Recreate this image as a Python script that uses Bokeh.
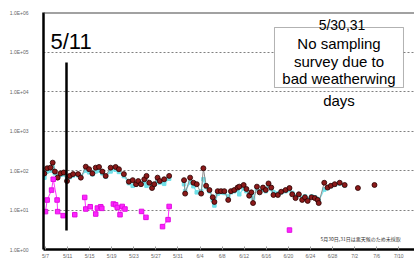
import math
from bokeh.plotting import figure
from bokeh.models import (ColumnDataSource, Label, BoxAnnotation, Span, FixedTicker,
                          CustomJSTickFormatter)
from bokeh.embed import file_html
from bokeh.resources import INLINE

# ---- data (day offset from 5/7, concentration) ----
red_day = [-0.2, 0.3, 0.9, 1.3, 1.7, 2.2, 2.7, 3.3, 3.9, 4.4, 5.0, 5.9, 6.4, 7.3, 7.9, 8.5, 9.1, 9.7,
           10.3, 10.9, 11.8, 12.7, 13.3, 14.2, 15.1, 15.8, 16.4, 16.8, 17.3, 17.9, 18.3, 18.8, 19.3,
           19.7, 20.3, 20.7, 21.5, 22.4,
           25.1, 25.3, 26.2, 26.8, 27.4, 28.2, 28.6, 29.1, 29.7, 30.3, 30.6, 31.2, 31.8, 32.4, 33.1,
           33.6, 34.2, 34.8, 35.1, 35.9, 36.4, 36.9, 37.3, 37.6, 38.3, 38.8, 39.4, 39.9, 40.4, 40.9,
           41.3, 42.1, 42.7, 43.5, 44.2, 44.7, 45.3, 45.9, 46.5, 47.0, 47.5, 48.2, 48.8, 49.3, 49.5,
           50.5, 51.1, 51.7, 52.4, 53.3, 54.2, 56.6, 59.6]
red_val = [84, 114, 118, 158, 94, 66, 84, 89, 54, 73, 81, 81, 66, 125, 108, 84, 118, 123,
           94, 73, 118, 123, 108, 81, 52, 57, 45, 54, 45, 60, 73, 49, 36,
           45, 66, 54, 60, 73,
           57, 26, 66, 49, 45, 26, 114, 41, 32, 21, 16, 30, 30, 30, 18,
           30, 32, 37, 39, 43, 34, 23, 28, 15, 39, 28, 37, 32, 47, 37,
           24, 24, 29, 32, 36, 25, 20, 25, 18, 21, 17, 21, 20, 18, 15,
           49, 37, 41, 45, 49, 43, 36, 43]
cyan_val = [66, 95, 100, 120, 85, 70, 78, 80, 62, 68, 75, 76, 70, 100, 90, 80, 95, 100,
            85, 70, 95, 105, 92, 72, 48, 41, 44, 50, 46, 52, 41, 48, 40,
            44, 55, 50, 46, 62,
            45, 30, 50, 40, 28, 30, 60, 38, 30, 18, 13, 26, 28, 27, 22,
            28, 30, 32, 25, 35, 30, 25, 27, 20, 34, 30, 33, 30, 40, 34,
            28, 26, 28, 30, 32, 27, 22, 24, 20, 22, 19, 22, 21, 19, 17,
            33, 36, 40, 44, 47, 42, float("nan"), float("nan")]
mag_day = [0.0, 0.3, 1.1, 1.4, 2.1, 2.2, 3.2, 5.3, 7.1, 7.3, 8.1, 9.1, 9.4, 10.0, 10.2,
           12.3, 12.7, 13.0, 13.5, 13.9, 14.4, 17.4, 18.2, 21.2, 22.2, 22.4, 44.2]
mag_val = [9.1, 17.9, 31.9, 60, 17.9, 9.1, 7.2, 7.6, 20.8, 10.6, 12.1, 7.9, 11.2, 12.1, 11.0,
           14.2, 13.6, 11.6, 7.6, 12.3, 10.6, 9.2, 6.5, 3.8, 5.7, 12.3, 3.1]

x_ticks = list(range(0, 69, 4))
x_labels = ["5/7", "5/11", "5/15", "5/19", "5/23", "5/27", "5/31", "6/4", "6/8", "6/12",
            "6/16", "6/20", "6/24", "6/28", "7/2", "7/6", "7/10", "7/14"]
y_ticks = [1, 10, 100, 1e3, 1e4, 1e5, 1e6]


def broken(xs, ys, gap):
    ox, oy = [], []
    for i, (a, b) in enumerate(zip(xs, ys)):
        if i > 0 and a - xs[i - 1] > gap:
            ox.append(float("nan"))
            oy.append(float("nan"))
        ox.append(a)
        oy.append(b)
    return ox, oy


# page-pixel helpers for annotation placement
def dx(px):
    return (px - 45) / 5.52


def dy(py):
    return 10 ** ((249 - py) / 39.5)


p = figure(width=414, height=262, x_range=(-0.362, 66.85), y_range=(1, 1e6),
           y_axis_type="log", output_backend="svg", toolbar_location=None,
           min_border_left=43, min_border_right=0, min_border_top=12, min_border_bottom=13)
p.outline_line_color = None
p.background_fill_color = "white"
p.xgrid.visible = False
p.ygrid.grid_line_dash = "2 2"
p.ygrid.grid_line_color = "#808080"
p.ygrid.grid_line_width = 1

p.yaxis.ticker = FixedTicker(ticks=y_ticks, minor_ticks=[])
p.yaxis.formatter = CustomJSTickFormatter(
    code="const e = Math.round(Math.log10(tick)); return '1.0E+' + (e < 10 ? '0' : '') + e;")
p.yaxis.axis_line_width = 2.5
p.yaxis.axis_line_color = "black"
p.yaxis.major_tick_line_color = None
p.yaxis.minor_tick_line_color = None
p.yaxis.major_label_standoff = 9
p.yaxis.major_label_text_font_size = "5px"
p.yaxis.major_label_text_color = "#666666"
p.yaxis.major_label_text_font = "Liberation Sans"

p.xaxis.ticker = FixedTicker(ticks=x_ticks, minor_ticks=[])
p.xaxis.major_label_overrides = {t: l for t, l in zip(x_ticks, x_labels)}
p.xaxis.axis_line_width = 2.5
p.xaxis.axis_line_color = "black"
p.xaxis.major_tick_in = 3
p.xaxis.major_tick_out = 0
p.xaxis.major_tick_line_color = "#999999"
p.xaxis.major_label_standoff = 3
p.xaxis.major_label_text_font_size = "5px"
p.xaxis.major_label_text_color = "#666666"
p.xaxis.major_label_text_font = "Liberation Sans"

p.add_layout(Span(location=1e6, dimension="width", line_color="#444444", line_width=2))

# cyan series
cx, cy = broken(red_day[:-2], cyan_val[:-2], 1.5)
p.line(cx, cy, line_color="#7ee4ec", line_width=1.2)
p.scatter(red_day, cyan_val, marker="square", size=3.5, fill_color="#6fe0e8", line_color="#6fe0e8")

# red series
rx, ry = broken(red_day, red_val, 1.5)
p.line(rx, ry, line_color="#8c8c8c", line_width=1)
p.scatter(red_day, red_val, marker="circle", size=5, fill_color="#8b1a1a", line_color="#2a0000",
          line_width=0.8)

# magenta series
mx, my = broken(mag_day, mag_val, 1.2)
p.line(mx, my, line_color="#ff33ff", line_width=1)
p.scatter(mag_day, mag_val, marker="square", size=4.5, fill_color="#ff22ff", line_color="#e010e0")

# annotations
p.segment(x0=[dx(66)], y0=[dy(230)], x1=[dx(66)], y1=[dy(62)], line_color="black", line_width=2.5)
p.add_layout(Label(x=dx(50), y=dy(53), text="5/11", text_font="Liberation Sans",
                   text_font_size="22px", text_color="black"))

p.add_layout(BoxAnnotation(left=dx(274), right=dx(403), top=dy(27), bottom=dy(87),
                           fill_color="white", fill_alpha=1, line_color="black", line_width=1))
cxm = dx(338.5)
for txt, base in [("No sampling", 43), ("survey due to", 61), ("bad weatherwing", 78), ("days", 100)]:
    p.add_layout(Label(x=cxm, y=dy(base), text=txt, text_align="center", text_baseline="alphabetic",
                       text_font="Liberation Sans", text_font_size="15px", text_color="black"))
p.add_layout(Label(x=dx(341.5), y=dy(24), text="5/30,31", text_align="center",
                   text_baseline="alphabetic", text_font="Liberation Sans", text_font_size="14px",
                   text_color="black"))
p.add_layout(Label(x=dx(320), y=dy(241), text="5月30日,31日は悪天候のため未採取",
                   text_font="Noto Sans CJK JP", text_font_size="5px", text_color="#333333"))

open("out.html", "w").write(file_html(p, INLINE))
